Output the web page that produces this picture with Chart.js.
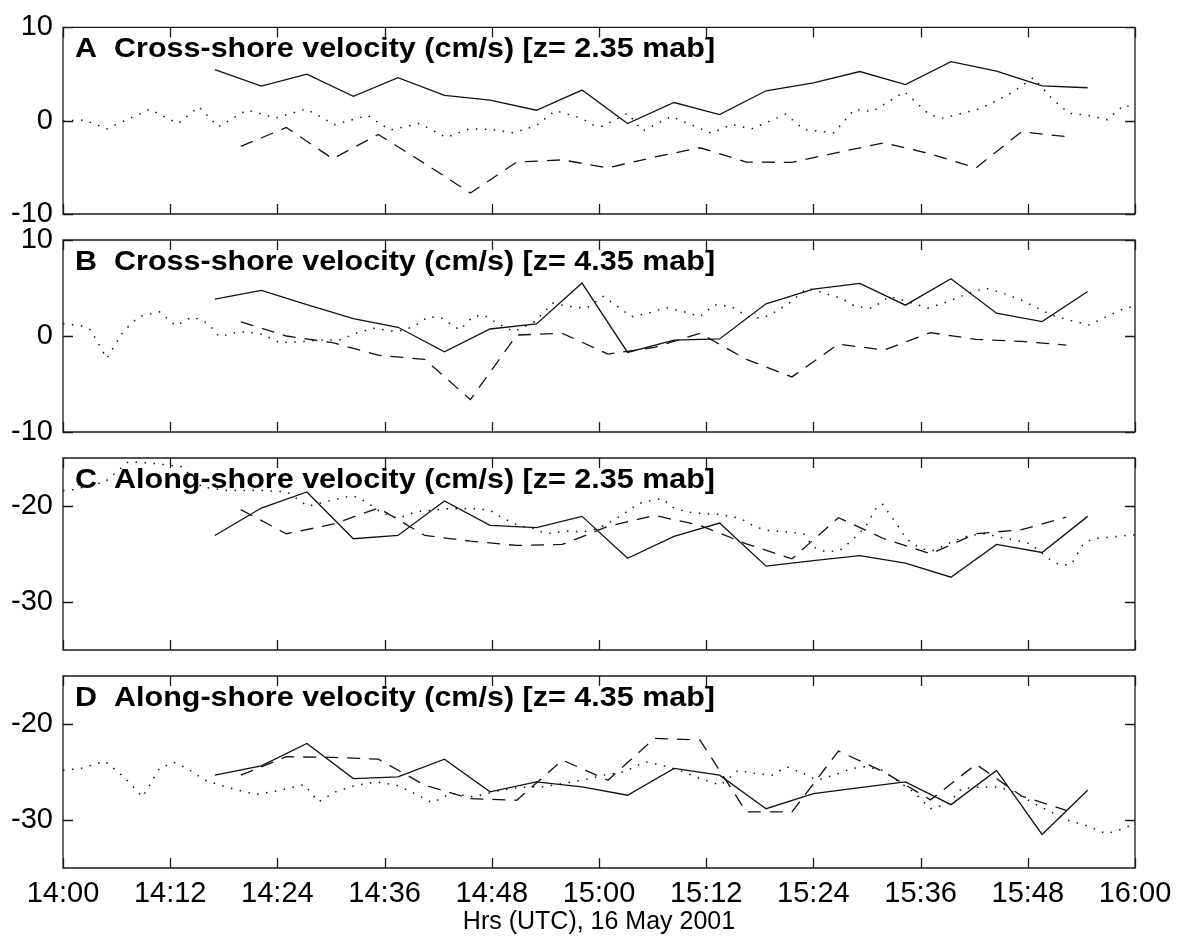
<!DOCTYPE html>
<html><head><meta charset="utf-8">
<script src="https://cdn.jsdelivr.net/npm/chart.js@4.4.1/dist/chart.umd.min.js"></script>
<style>
html,body{margin:0;padding:0;background:#fff;}
#wrap{position:relative;width:1183px;height:943px;overflow:hidden;background:#fff;}
canvas{position:absolute;left:0;}
</style></head><body><div id="wrap">
<canvas id="cA"></canvas><canvas id="cB"></canvas><canvas id="cC"></canvas><canvas id="cD"></canvas>
</div>
<script>
// ---------- DATA ----------
const xTickValues = [0, 12, 24, 36, 48, 60, 72, 84, 96, 108, 120]; // minutes after 14:00
const xTickLabels = ['14:00','14:12','14:24','14:36','14:48','15:00','15:12','15:24','15:36','15:48','16:00'];
const xAxisTitle = 'Hrs (UTC), 16 May 2001';
const yTicksCross = [-10, 0, 10];
const yTicksAlong = [-30, -20];
const panelTitles = [
  'A  Cross-shore velocity (cm/s) [z= 2.35 mab]',
  'B  Cross-shore velocity (cm/s) [z= 4.35 mab]',
  'C  Along-shore velocity (cm/s) [z= 2.35 mab]',
  'D  Along-shore velocity (cm/s) [z= 4.35 mab]'
];

// sample times (minutes after 14:00)
const solidTimes = [17.0, 22.2, 27.3, 32.5, 37.5, 42.7, 47.8, 53.0, 58.1, 63.2, 68.4, 73.5, 78.7, 84.0, 89.2, 94.3, 99.4, 104.5, 109.6, 114.7];
const dashedTimes = [19.9, 25.0, 30.2, 35.3, 40.5, 45.6, 50.8, 55.9, 61.0, 66.2, 71.3, 76.5, 81.6, 86.8, 91.9, 97.1, 102.2, 107.3, 112.3];

// Panel A
const aSolid = [5.48, 3.70, 4.99, 2.62, 4.61, 2.72, 2.2, 1.12, 3.28, -0.31, 1.95, 0.66, 3.21, 4.05, 5.27, 3.87, 6.32, 5.31, 3.73, 3.53];
const aDashed = [-2.76, -0.73, -4.08, -1.47, -4.6, -7.75, -4.43, -4.2, -5.06, -3.9, -2.9, -4.43, -4.47, -3.39, -2.37, -3.56, -5.06, -1.19, -1.71];
const aDottedTimes = [0, 2.4, 4.9, 9.7, 12.9, 15.2, 17.4, 20.6, 23.8, 27.2, 30.4, 34.1, 36.6, 39.9, 42.9, 45.5, 48.0, 50.4, 53.0, 55.1, 58.0, 59.4, 60.4, 63.2, 64.9, 68.1, 72.6, 74.8, 77.1, 80.9, 82.9, 86.3, 88.6, 90.6, 94.2, 97.0, 98.5, 102.4, 104.5, 106.6, 108.6, 110.7, 112.6, 114.8, 116.9, 118.8, 120];
const aDotted = [0, 0.07, -0.87, 1.22, -0.31, 1.5, -0.66, 1.15, 0.28, 1.26, -0.42, 0.56, -1.0, -0.3, -1.8, -0.87, -0.94, -1.3, -0.52, 1.08, 0.28, -0.49, -0.6, 0.8, -1.1, 0.45, -1.35, -0.4, -0.87, 0.7, -0.94, -1.3, 1.22, 0.98, 3.1, 0.63, 0.28, 1.22, 2.13, 3.25, 4.6, 2.37, 0.8, 0.56, 0.1, 1.7, 1.3];

// Panel B
const bSolid = [3.84, 4.75, 3.28, 1.81, 0.91, -1.64, 0.73, 1.26, 5.51, -1.71, -0.42, -0.31, 3.35, 4.89, 5.48, 3.21, 5.97, 2.37, 1.5, 4.64];
const bDashed = [1.47, 0.0, -0.7, -2.0, -2.44, -6.63, 0.1, 0.28, -1.88, -1.19, 0.28, -2.44, -4.26, -0.84, -1.47, 0.35, -0.35, -0.56, -0.94];
const bDottedTimes = [0, 2.1, 3.1, 4.9, 6.75, 8.5, 10.8, 12.6, 14.5, 16.2, 17.5, 19.7, 22.0, 24.3, 26.6, 28.9, 30.9, 32.8, 34.7, 37.4, 39.3, 40.9, 42.4, 44.4, 45.9, 47.1, 48.6, 50.5, 52.8, 54.8, 56.7, 58.6, 60.5, 62.1, 63.6, 65.5, 67.5, 69.4, 71.3, 72.9, 74.8, 76.7, 78.3, 79.8, 81.3, 83.3, 85.2, 87.1, 88.7, 90.6, 92.5, 94.5, 96.8, 99.1, 101.4, 103.3, 105.2, 107.2, 109.1, 110.6, 112.5, 114.9, 116.8, 119.1, 120];
const bDotted = [1.3, 1.05, 0.63, -2.34, 0.49, 2.02, 2.51, 1.08, 1.99, 1.33, -0.07, 0.45, 0.28, -0.7, -0.59, -0.42, -0.42, 0.28, 0.8, 0.45, 0.98, 2.02, 1.85, 0.63, 2.02, 2.2, 1.33, 0.45, 1.5, 3.42, 3.07, 2.9, 4.12, 3.07, 2.02, 2.37, 2.97, 2.55, 2.02, 3.25, 3.07, 2.02, 1.85, 2.55, 3.42, 4.99, 4.47, 3.94, 3.07, 2.9, 4.12, 3.6, 2.9, 3.6, 4.47, 4.99, 4.47, 3.77, 2.9, 2.2, 1.68, 1.15, 2.02, 3.0, 3.0];

// Panel C
const cSolid = [-23.07, -20.21, -18.54, -23.41, -23.07, -19.48, -22.02, -22.26, -21.08, -25.44, -23.17, -21.78, -26.27, -25.68, -25.16, -25.96, -27.42, -24.0, -24.84, -21.08];
const cDashed = [-20.38, -22.89, -21.9, -20.21, -23.07, -23.66, -24.11, -24.0, -22.13, -20.98, -22.02, -23.94, -25.5, -21.22, -23.41, -24.98, -22.89, -22.47, -21.15];
const cDottedTimes = [0, 1.1, 4.7, 7.3, 9.5, 13.3, 15.5, 18.5, 22.0, 25.1, 27.4, 30.1, 32.4, 34.0, 35.5, 37.5, 39.5, 42.8, 46.3, 47.8, 49.0, 50.9, 52.8, 54.0, 56.7, 58.2, 59.8, 61.3, 62.8, 64.4, 65.9, 67.1, 68.2, 69.8, 71.7, 73.6, 75.9, 77.5, 79.0, 81.3, 82.9, 84.0, 85.5, 87.0, 88.3, 89.8, 91.0, 91.7, 93.3, 94.4, 96.0, 97.5, 99.8, 101.4, 103.3, 104.8, 106.8, 108.3, 110.6, 111.8, 112.9, 114.1, 115.2, 117.2, 119.1, 120];
const cDotted = [-18.4, -18.3, -17.5, -15.4, -15.5, -15.9, -18.0, -18.4, -18.36, -18.54, -20.03, -19.4, -18.9, -19.6, -20.6, -21.3, -20.6, -20.3, -20.28, -20.45, -21.15, -22.02, -22.37, -22.89, -22.6, -22.72, -22.37, -21.67, -20.8, -19.76, -19.41, -19.23, -20.1, -20.63, -20.8, -20.87, -21.32, -22.2, -22.54, -22.72, -22.89, -24.29, -24.8, -24.6, -23.6, -22.2, -20.28, -19.76, -21.85, -23.41, -24.46, -24.63, -23.6, -23.07, -22.89, -23.24, -23.59, -23.94, -25.68, -26.2, -26.03, -24.11, -23.41, -23.24, -23.07, -23.0];

// Panel D
const dSolid = [-25.33, -24.36, -22.02, -25.68, -25.51, -23.66, -27.07, -26.03, -26.55, -27.42, -24.63, -25.33, -28.82, -27.25, -26.62, -26.03, -28.4, -24.84, -31.5, -26.9];
const dDashed = [-25.33, -23.41, -23.48, -23.66, -26.38, -27.77, -27.94, -23.76, -25.85, -21.5, -21.67, -29.16, -29.16, -22.82, -25.0, -27.9, -24.2, -27.5, -29.0];
const dDottedTimes = [0, 2.0, 4.7, 7.0, 8.9, 10.8, 12.4, 13.9, 15.9, 18.2, 21.6, 24.3, 27.0, 28.6, 30.5, 32.8, 35.1, 37.4, 39.5, 41.3, 43.5, 46.0, 48.5, 51.0, 53.6, 55.9, 58.2, 60.5, 62.8, 65.2, 66.7, 69.0, 71.3, 73.6, 75.6, 77.5, 79.4, 81.0, 82.9, 84.4, 86.3, 88.3, 89.8, 91.7, 93.3, 95.2, 97.1, 99.1, 100.6, 102.9, 104.8, 106.8, 108.7, 110.6, 112.5, 114.5, 116.8, 118.7, 119.9];
const dDotted = [-24.81, -24.63, -23.87, -25.68, -27.6, -24.63, -24.0, -24.63, -25.85, -26.55, -27.35, -26.9, -26.31, -28.12, -27.07, -26.38, -26.03, -26.4, -27.3, -28.2, -27.2, -27.6, -27.0, -26.6, -26.55, -26.2, -25.85, -25.33, -24.98, -23.94, -24.22, -24.81, -25.68, -26.38, -24.81, -25.16, -25.33, -24.46, -25.16, -25.85, -25.33, -24.63, -24.46, -24.81, -25.85, -27.07, -28.82, -28.29, -26.72, -26.55, -26.55, -27.25, -28.29, -29.16, -30.03, -30.56, -31.43, -30.91, -30.38];

// ---------- LAYOUT / STYLE ----------
const FONT = '"Liberation Sans", Arial, Helvetica, sans-serif';
const panels = [
  {id:'cA', title:panelTitles[0], solid:aSolid, dashed:aDashed, dotT:aDottedTimes, dot:aDotted, yMin:-10, yMax:10, yTicks:yTicksCross, top:0,   h:244, padTop:22, padBottom:30, xLabels:false},
  {id:'cB', title:panelTitles[1], solid:bSolid, dashed:bDashed, dotT:bDottedTimes, dot:bDotted, yMin:-10, yMax:10, yTicks:yTicksCross, top:210, h:252, padTop:30, padBottom:30, xLabels:false},
  {id:'cC', title:panelTitles[2], solid:cSolid, dashed:cDashed, dotT:cDottedTimes, dot:cDotted, yMin:-35, yMax:-15, yTicks:yTicksAlong, top:428, h:252, padTop:30, padBottom:30, xLabels:false},
  {id:'cD', title:panelTitles[3], solid:dSolid, dashed:dDashed, dotT:dDottedTimes, dot:dDotted, yMin:-35, yMax:-15, yTicks:yTicksAlong, top:646, h:297, padTop:30, padBottom:0, xLabels:true}
];

const zip = (xs, ys) => ys.map((y, i) => ({x: xs[i], y}));

const framePlugin = {
  id: 'frame',
  afterDatasetsDraw(chart, args, opts) {
    const ctx = chart.ctx;
    const {left, right, top, bottom} = chart.chartArea;
    const xs = chart.scales.x, ys = chart.scales.y;
    const TL = 10;
    ctx.save();
    ctx.strokeStyle = '#1a1a1a';
    ctx.lineWidth = 1.3;
    ctx.beginPath();
    ctx.rect(left, top, right - left, bottom - top);
    xTickValues.forEach(v => {
      const px = Math.round(xs.getPixelForValue(v)) + 0.5;
      ctx.moveTo(px, bottom); ctx.lineTo(px, bottom - TL);
      ctx.moveTo(px, top); ctx.lineTo(px, top + TL);
    });
    opts.yTicks.forEach(v => {
      const py = Math.round(ys.getPixelForValue(v)) + 0.5;
      ctx.moveTo(left, py); ctx.lineTo(left + TL, py);
      ctx.moveTo(right, py); ctx.lineTo(right - TL, py);
    });
    ctx.stroke();
    // panel title (bold, slightly wide like the original Helvetica rendering)
    ctx.fillStyle = '#000';
    ctx.font = 'bold 27px ' + FONT;
    ctx.textBaseline = 'alphabetic';
    ctx.textAlign = 'left';
    ctx.translate(left + 12, top + 30);
    ctx.scale(1.13, 1);
    ctx.fillText(opts.title, 0, 0);
    ctx.restore();
  }
};

panels.forEach(p => {
  const cv = document.getElementById(p.id);
  cv.width = 1183; cv.height = p.h;
  cv.style.top = p.top + 'px';
  cv.style.width = '1183px'; cv.style.height = p.h + 'px';
  new Chart(cv, {
    type: 'line',
    data: {
      datasets: [
        {data: zip(p.dotT, p.dot), borderColor:'#111', borderWidth:1.5, borderDash:[1.5, 7.5], pointRadius:0, tension:0},
        {data: zip(dashedTimes, p.dashed), borderColor:'#111', borderWidth:1.3, borderDash:[13, 9], pointRadius:0, tension:0},
        {data: zip(solidTimes, p.solid), borderColor:'#111', borderWidth:1.3, pointRadius:0, tension:0}
      ]
    },
    options: {
      responsive: false,
      animation: false,
      devicePixelRatio: 1,
      events: [],
      layout: {padding: {top: p.padTop, bottom: p.padBottom, left: 0, right: 48}},
      plugins: {
        legend: {display:false},
        tooltip: {enabled:false},
        frame: {yTicks: p.yTicks, title: p.title}
      },
      scales: {
        x: {
          type: 'linear', min: 0, max: 120,
          afterBuildTicks: s => { s.ticks = xTickValues.map(v => ({value: v})); },
          afterFit: s => { s.height = p.xLabels ? 75 : 0; },
          grid: {display:false, drawTicks:false},
          border: {display:false},
          ticks: {
            display: p.xLabels, padding: 9, maxRotation: 0, autoSkip: false,
            color: '#000', font: {family: FONT, size: 29},
            callback: (v) => xTickLabels[xTickValues.indexOf(v)]
          },
          title: {display: p.xLabels, text: xAxisTitle, color:'#000', font:{family: FONT, size: 25}, padding: {top: 0, bottom: 6}}
        },
        y: {
          type: 'linear', min: p.yMin, max: p.yMax,
          afterBuildTicks: s => { s.ticks = p.yTicks.map(v => ({value: v})); },
          afterFit: s => { s.width = 63; },
          grid: {display:false, drawTicks:false},
          border: {display:false},
          ticks: {padding: 10, color:'#000', font:{family: FONT, size: 29}, callback: v => String(v)}
        }
      }
    },
    plugins: [framePlugin]
  });
});
</script></body></html>
